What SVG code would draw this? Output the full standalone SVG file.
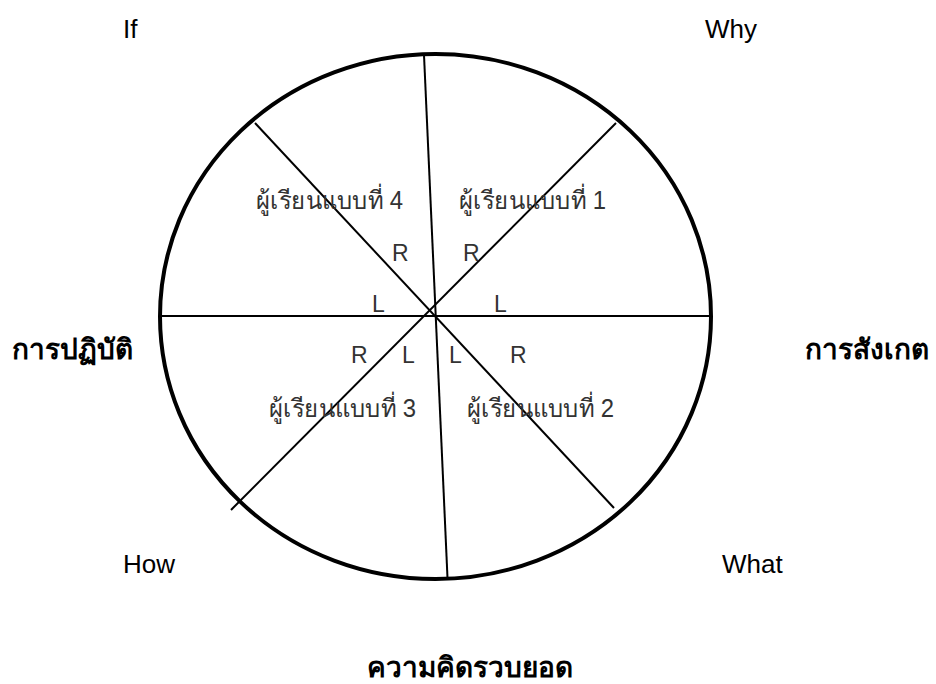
<svg xmlns="http://www.w3.org/2000/svg" width="936" height="684" viewBox="0 0 936 684">
<style>
.ln{stroke:#000;stroke-width:2;fill:none}
.th{font-family:"Liberation Sans","Noto Sans",sans-serif;font-size:25px;fill:#333}
.lab{font-family:"Liberation Sans","Noto Sans",sans-serif;font-size:23px;fill:#333}
.big{font-family:"Liberation Sans","Noto Sans",sans-serif;font-size:28px;font-weight:bold;fill:#000}
.cor{font-family:"Liberation Sans","Noto Sans",sans-serif;font-size:26px;fill:#000}
</style>
<rect width="936" height="684" fill="#fff"/>
<g id="circle">
<ellipse cx="435.5" cy="316.5" rx="275.5" ry="262.5" fill="none" stroke="#000" stroke-width="4"/>
</g>
<g id="lines">
<line class="ln" x1="424" y1="55" x2="447.5" y2="578"/>
<line class="ln" x1="160" y1="316" x2="711" y2="316"/>
<line class="ln" x1="255" y1="123" x2="614" y2="508"/>
<line class="ln" x1="616" y1="123" x2="231" y2="510"/>
</g>
<g id="learners">
<text class="th" x="256" y="209" textLength="147" lengthAdjust="spacingAndGlyphs">ผู้เรียนแบบที่ 4</text>
<text class="th" x="459" y="209" textLength="147" lengthAdjust="spacingAndGlyphs">ผู้เรียนแบบที่ 1</text>
<text class="th" x="269" y="417" textLength="147" lengthAdjust="spacingAndGlyphs">ผู้เรียนแบบที่ 3</text>
<text class="th" x="467" y="417" textLength="147" lengthAdjust="spacingAndGlyphs">ผู้เรียนแบบที่ 2</text>
</g>
<g id="rl">
<text class="lab" x="392" y="261">R</text>
<text class="lab" x="463" y="261">R</text>
<text class="lab" x="372" y="312">L</text>
<text class="lab" x="494" y="312">L</text>
<text class="lab" x="351" y="363">R</text>
<text class="lab" x="402" y="363">L</text>
<text class="lab" x="449" y="363">L</text>
<text class="lab" x="510" y="363">R</text>
</g>
<g id="corners">
<text class="cor" x="123" y="38">If</text>
<text class="cor" x="705" y="38">Why</text>
<text class="cor" x="123" y="573">How</text>
<text class="cor" x="722" y="573">What</text>
</g>
<g id="axes">
<text class="big" x="12" y="359">การปฏิบัติ</text>
<text class="big" x="805" y="359">การสังเกต</text>
<text class="big" x="367" y="677">ความคิดรวบยอด</text>
</g>
</svg>
